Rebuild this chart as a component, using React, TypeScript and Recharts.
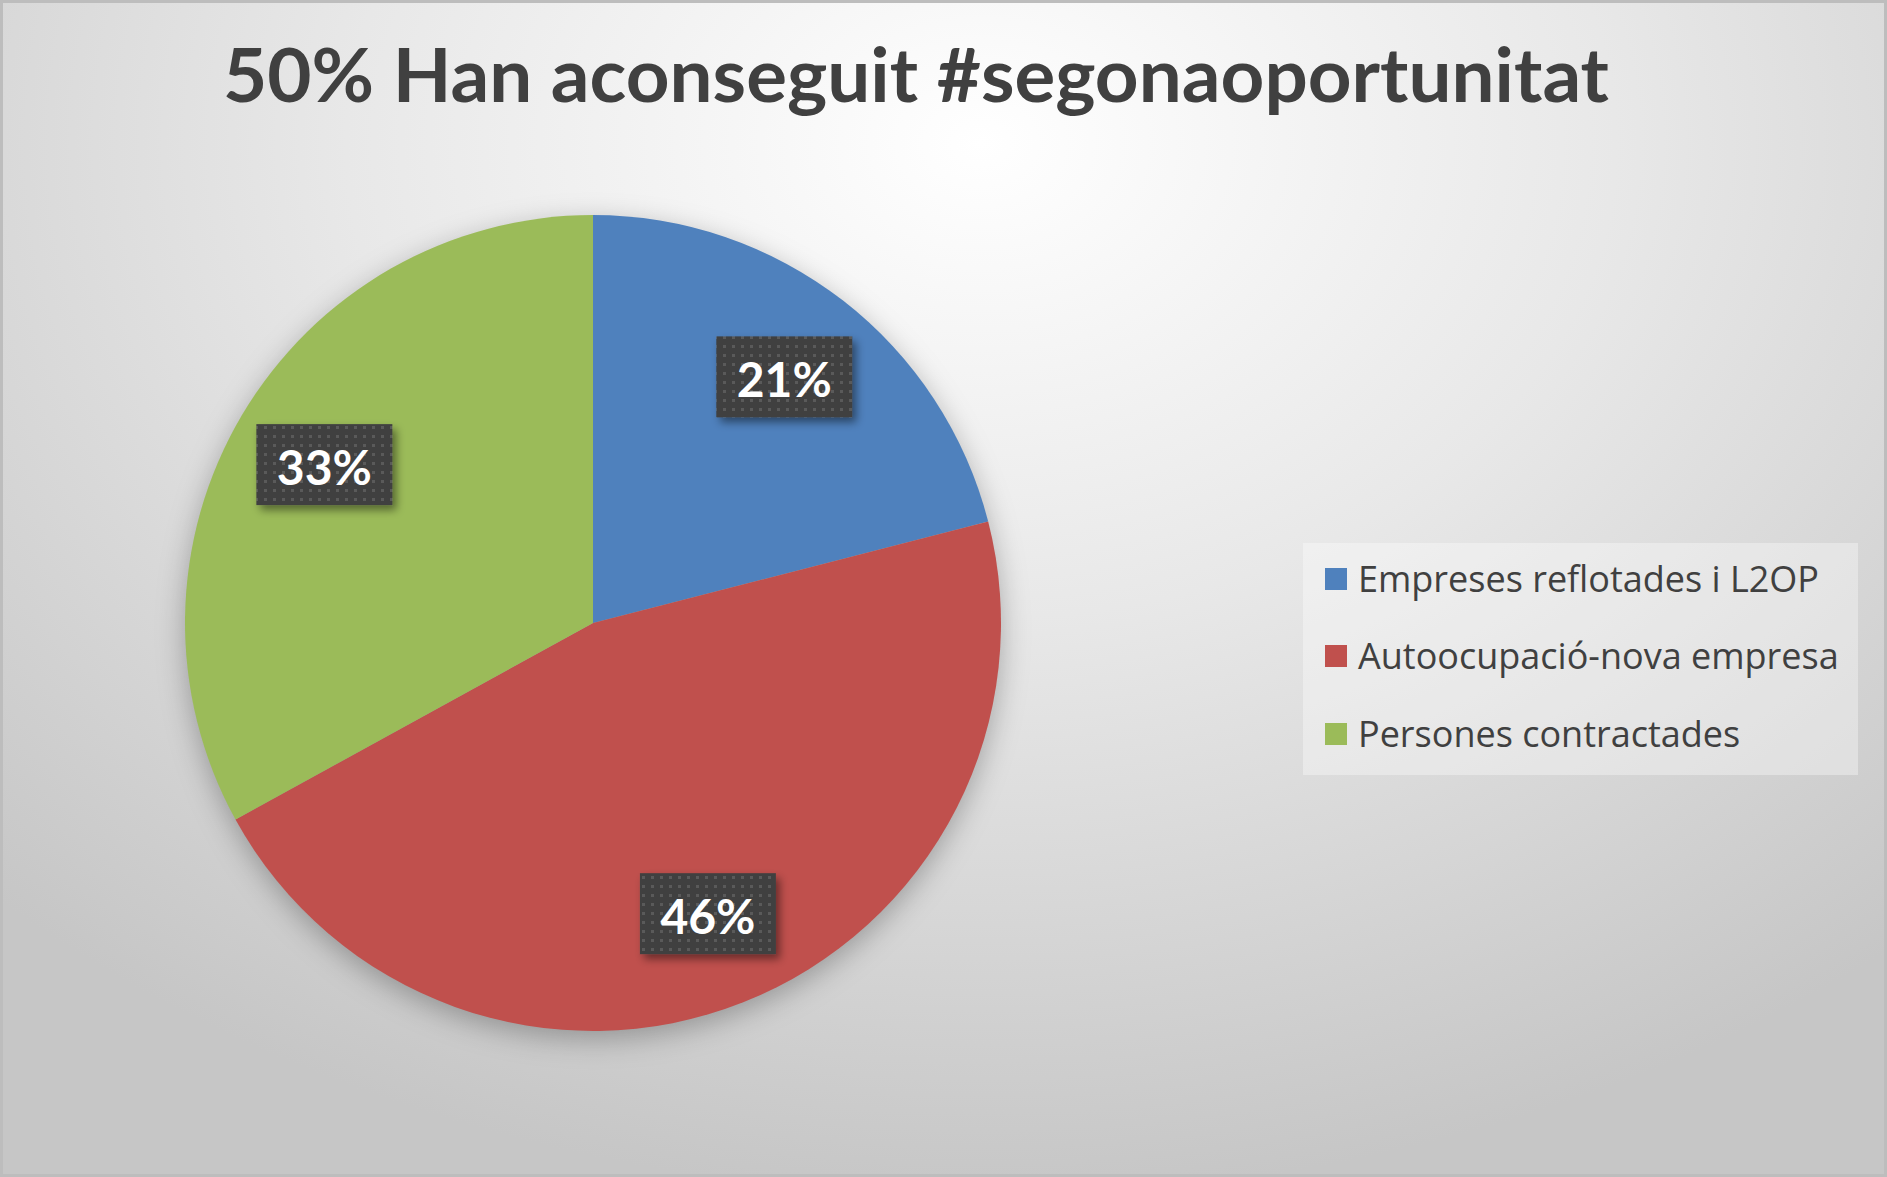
import { Cell, Legend, Pie, PieChart } from "recharts";

const title = "50% Han aconseguit #segonaoportunitat";
const categories = ["Empreses reflotades i L2OP", "Autoocupació-nova empresa", "Persones contractades"];
const shares = [21, 46, 33];
const colors = ["#4F81BD", "#C0504D", "#9BBB59"];

const data = categories.map((name, i) => ({ name, value: shares[i] }));

const RAD = Math.PI / 180;

function renderLabel(props: any) {
  const { cx, cy, midAngle, outerRadius, percent } = props;
  const r = outerRadius * 0.765;
  const x = cx + r * Math.cos(-midAngle * RAD);
  const y = cy + r * Math.sin(-midAngle * RAD);
  return (
    <g>
      <rect x={x - 68} y={y - 40} width={136} height={81} fill="url(#dots)" filter="url(#boxShadow)" />
      <text
        x={x}
        y={y + 2}
        textAnchor="middle"
        dominantBaseline="central"
        fill="#ffffff"
        fontFamily="Lato"
        fontWeight={700}
        fontSize={48}
      >
        {`${Math.round(percent * 100)}%`}
      </text>
    </g>
  );
}

function renderLegend(props: any) {
  const items = props.payload || [];
  return (
    <div
      style={{
        width: 555,
        height: 232,
        background: "rgba(255,255,255,0.35)",
        boxSizing: "border-box",
        paddingLeft: 22,
      }}
    >
      <div style={{ transform: "translateY(-3px)" }}>
        {items.map((item: any) => (
          <div key={item.value} style={{ display: "flex", alignItems: "center", height: 77.5 }}>
            <span style={{ width: 22, height: 22, background: item.color, display: "inline-block", marginRight: 11, flex: "none" }} />
            <span style={{ fontFamily: "Open Sans", fontSize: 36, color: "#404040", lineHeight: 1, whiteSpace: "nowrap" }}>
              {item.value}
            </span>
          </div>
        ))}
      </div>
    </div>
  );
}

export default function App() {
  return (
    <div
      style={{
        position: "absolute",
        left: 0,
        top: 0,
        width: 1887,
        height: 1177,
        boxSizing: "border-box",
        border: "3px solid #bdbdbd",
        background: "radial-gradient(ellipse 75% 90% at 52% 12%, #ffffff 0%, #e8e8e8 45%, #c6c6c6 100%)",
        overflow: "hidden",
      }}
    >
      <style>{`.recharts-pie { filter: drop-shadow(0px 8px 14px rgba(0,0,0,0.28)); }`}</style>
      <svg width={1887} height={140} style={{ position: "absolute", left: -3, top: -3 }}>
        <text
          x={916}
          y={102}
          textAnchor="middle"
          fill="#404040"
          fontFamily="Lato"
          fontWeight={700}
          fontSize={75}
          textLength={1386}
          lengthAdjust="spacingAndGlyphs"
        >
          {title}
        </text>
      </svg>
      <div style={{ position: "absolute", left: -3, top: -3 }}>
        <PieChart width={1887} height={1177} margin={{ top: 0, right: 0, bottom: 0, left: 0 }}>
          <defs>
            <pattern id="dots" width={9} height={9} patternUnits="userSpaceOnUse">
              <rect width={9} height={9} fill="#404040" />
              <rect x={3} y={3} width={3} height={3} fill="#5a5a5a" />
            </pattern>
            <filter id="boxShadow" x="-20%" y="-20%" width="150%" height="160%">
              <feDropShadow dx={4} dy={5} stdDeviation={4} floodColor="#000" floodOpacity={0.45} />
            </filter>
          </defs>
          <Pie
            data={data}
            dataKey="value"
            nameKey="name"
            cx={593}
            cy={623}
            outerRadius={408}
            startAngle={90}
            endAngle={-270}
            stroke="none"
            labelLine={false}
            label={renderLabel}
            isAnimationActive={false}
          >
            {data.map((entry, i) => (
              <Cell key={entry.name} fill={colors[i]} />
            ))}
          </Pie>
          <Legend
            layout="vertical"
            itemSorter={null}
            content={renderLegend}
            wrapperStyle={{ position: "absolute", left: 1303, top: 543, width: 555, height: 232 }}
          />
        </PieChart>
      </div>
    </div>
  );
}
